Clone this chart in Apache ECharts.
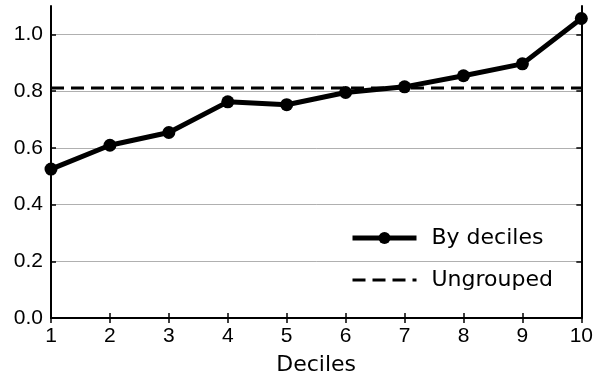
<!DOCTYPE html>
<html>
<head>
<meta charset="utf-8">
<script src="https://cdn.jsdelivr.net/npm/echarts@6/dist/echarts.min.js"></script>
<style>html,body{margin:0;padding:0;background:#fff}#c{width:596px;height:381px}</style>
</head>
<body>
<div id="c"></div>
<script>
const deciles = [1, 2, 3, 4, 5, 6, 7, 8, 9, 10];
const byDeciles = [0.525, 0.609, 0.654, 0.762, 0.752, 0.795, 0.815, 0.854, 0.896, 1.056];
const ungrouped = 0.811;
const xTicks = [1, 2, 3, 4, 5, 6, 7, 8, 9, 10];
const yTicks = [0.0, 0.2, 0.4, 0.6, 0.8, 1.0];

const FONT = 'DejaVu Sans';
const NUMFONT = 'Liberation Sans';
const FS = 22;
const NFS = 21;
const chart = echarts.init(document.getElementById('c'));
const axisLine = {show: true, lineStyle: {color: '#000', width: 2}};
const tick = {show: true, inside: true, length: 5, lineStyle: {color: '#000', width: 1.5}};
chart.setOption({
  animation: false,
  textStyle: {fontFamily: FONT},
  grid: {left: 51, right: 12, top: 6, bottom: 62},
  legend: {
    orient: 'vertical', left: 345, top: 222, itemWidth: 64, itemHeight: 15, itemGap: 20,
    lineStyle: {width: 'inherit', type: 'inherit'},
    textStyle: {fontFamily: FONT, fontSize: FS, color: '#000', padding: [0, 0, 0, 10]},
    data: [
      {name: 'By deciles'},
      {name: 'Ungrouped', itemStyle: {color: 'rgba(0,0,0,0)', borderWidth: 0, opacity: 0}}
    ]
  },
  xAxis: [{
    type: 'value', min: 1, max: 10, interval: 1,
    name: 'Deciles', nameLocation: 'middle', nameGap: 36,
    nameTextStyle: {fontFamily: FONT, fontSize: FS, color: '#000'},
    axisLine, axisTick: tick, splitLine: {show: false},
    axisLabel: {fontFamily: NUMFONT, fontSize: NFS, color: '#000', margin: 8,
      customValues: xTicks, formatter: v => String(v)}
  }, {
    type: 'value', min: 1, max: 10, interval: 1, position: 'top',
    axisLine, axisTick: tick, axisLabel: {show: false}, splitLine: {show: false}
  }],
  yAxis: [{
    type: 'value', min: 0, max: 1.1, interval: 0.2,
    axisLine, axisTick: Object.assign({}, tick, {customValues: yTicks}),
    splitLine: {show: true, lineStyle: {color: '#b0b0b0', width: 1}},
    axisLabel: {fontFamily: NUMFONT, fontSize: NFS, color: '#000', margin: 8,
      customValues: yTicks, formatter: v => v.toFixed(1)}
  }, {
    type: 'value', min: 0, max: 1.1, interval: 0.2, position: 'right',
    axisLine, axisTick: Object.assign({}, tick, {customValues: yTicks}),
    axisLabel: {show: false}, splitLine: {show: false}
  }],
  series: [{
    name: 'By deciles', type: 'line',
    data: deciles.map((d, i) => [d, byDeciles[i]]),
    symbol: 'circle', symbolSize: 13, clip: false,
    lineStyle: {color: '#000', width: 5},
    itemStyle: {color: '#000'}, z: 3
  }, {
    name: 'Ungrouped', type: 'line',
    data: [[deciles[0], ungrouped], [deciles[deciles.length - 1], ungrouped]],
    symbol: 'none', showSymbol: false,
    lineStyle: {color: '#000', width: 3, type: [13, 7]},
    itemStyle: {color: '#000'}, z: 2
  }]
});
</script>
</body>
</html>
